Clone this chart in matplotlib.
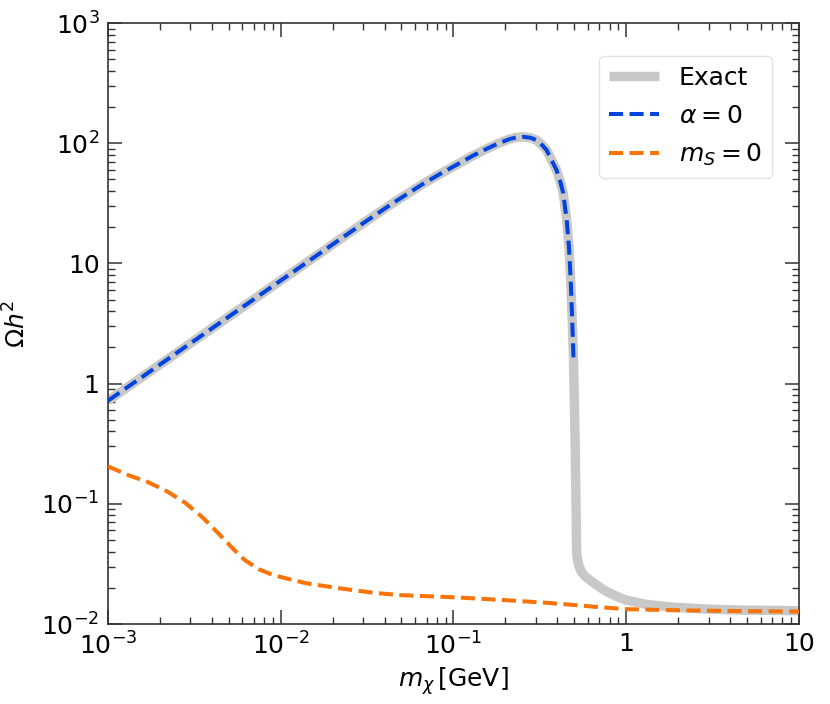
import matplotlib
matplotlib.use("Agg")
import matplotlib.pyplot as plt
from matplotlib.ticker import FixedLocator, FixedFormatter, LogLocator, NullFormatter

# ---- data ----
exact_x = [0.001, 0.002, 0.005, 0.01, 0.02, 0.03, 0.045, 0.0668, 0.0836, 0.1,
           0.13, 0.156, 0.18, 0.212, 0.233, 0.253, 0.28, 0.303, 0.325, 0.346,
           0.37, 0.395, 0.415, 0.432, 0.452, 0.466, 0.477, 0.485, 0.494, 0.505,
           0.512, 0.516, 0.522, 0.53, 0.55, 0.58, 0.617, 0.67, 0.77, 0.88,
           1.0, 1.3, 1.87, 3.0, 4.55, 7.0, 10.0]
exact_y = [0.72, 1.44, 3.6, 7.2, 14.4, 21.6, 32.0, 46.0, 55.5, 64.0,
           79.0, 90.0, 99.0, 108.5, 112.0, 113.0, 111.0, 106.0, 97.0, 87.7,
           72.0, 59.8, 48.0, 38.3, 23.0, 13.8, 7.3, 3.85, 1.79, 0.39,
           0.1, 0.039, 0.0345, 0.031, 0.0272, 0.0248, 0.0232, 0.0212, 0.0186, 0.0170,
           0.0158, 0.0146, 0.0138, 0.0133, 0.01306, 0.0130, 0.0129]

alpha0_x = [0.001, 0.002, 0.005, 0.01, 0.02, 0.03, 0.045, 0.0668, 0.0836, 0.1,
            0.13, 0.156, 0.18, 0.212, 0.233, 0.253, 0.28, 0.303, 0.325, 0.346,
            0.37, 0.395, 0.415, 0.432, 0.452, 0.466, 0.477, 0.485, 0.494, 0.496]
alpha0_y = [0.72, 1.44, 3.6, 7.2, 14.4, 21.6, 32.0, 46.0, 55.5, 64.0,
            79.0, 90.0, 99.0, 108.5, 112.0, 113.0, 111.0, 106.0, 97.0, 87.7,
            72.0, 59.8, 48.0, 38.3, 23.0, 13.8, 7.3, 3.85, 1.79, 1.48]

ms0_x = [0.001, 0.0013, 0.0017, 0.0022, 0.0028, 0.0035, 0.0043, 0.0052, 0.0062,
         0.0075, 0.009, 0.011, 0.0141, 0.022, 0.0344, 0.049, 0.1, 0.2, 0.35,
         0.5, 0.7, 1.0, 2.0, 5.0, 10.0]
ms0_y = [0.205, 0.174, 0.152, 0.127, 0.102, 0.078, 0.058, 0.0435, 0.0340,
         0.0285, 0.0256, 0.0238, 0.0218, 0.0198, 0.0182, 0.0174, 0.0167, 0.0158, 0.0150,
         0.0144, 0.0138, 0.0133, 0.0130, 0.0128, 0.0127]

labels = ["Exact", r"$\alpha=0$", r"$m_S=0$"]

xticks = [1e-3, 1e-2, 1e-1, 1, 10]
xticklabels = [r"$10^{-3}$", r"$10^{-2}$", r"$10^{-1}$", "1", "10"]
yticks = [1e-2, 1e-1, 1, 10, 1e2, 1e3]
yticklabels = [r"$10^{-2}$", r"$10^{-1}$", "1", "10", r"$10^{2}$", r"$10^{3}$"]

# ---- figure ----
plt.rcParams["font.family"] = ["DejaVu Sans"]
plt.rcParams["mathtext.fontset"] = "dejavusans"

fig = plt.figure(figsize=(8.3, 7.04), dpi=100)
ax = fig.add_axes([0.130, 0.1136, 0.8327, 0.8537])

ax.plot(exact_x, exact_y, color="#c8c9c7", lw=6.8, solid_capstyle="butt",
        solid_joinstyle="round", label=labels[0], zorder=2)
ax.plot(alpha0_x, alpha0_y, color="#0343df", lw=2.9, ls=(0, (3.5, 1.6)),
        label=labels[1], zorder=3)
ax.plot(ms0_x, ms0_y, color="#f97306", lw=2.9, ls=(0, (3.5, 1.6)),
        label=labels[2], zorder=3)

ax.set_xscale("log")
ax.set_yscale("log")
ax.set_xlim(1e-3, 10)
ax.set_ylim(1e-2, 1e3)

ax.xaxis.set_major_locator(FixedLocator(xticks))
ax.xaxis.set_major_formatter(FixedFormatter(xticklabels))
ax.yaxis.set_major_locator(FixedLocator(yticks))
ax.yaxis.set_major_formatter(FixedFormatter(yticklabels))
ax.xaxis.set_minor_locator(LogLocator(base=10, subs=range(2, 10), numticks=20))
ax.yaxis.set_minor_locator(LogLocator(base=10, subs=range(2, 10), numticks=20))
ax.xaxis.set_minor_formatter(NullFormatter())
ax.yaxis.set_minor_formatter(NullFormatter())

ax.tick_params(which="both", direction="in", top=True, right=True,
               colors="#333333", labelcolor="black")
ax.tick_params(which="major", length=10, width=1.1, labelsize=18, pad=6)
ax.tick_params(which="minor", length=5, width=1.0)
for s in ax.spines.values():
    s.set_color("#333333")
    s.set_linewidth(1.2)

ax.set_xlabel(r"$m_\chi\,$[GeV]", fontsize=18, labelpad=4)
ax.set_ylabel(r"$\Omega h^2$", fontsize=18, labelpad=8)

ax.legend(loc="upper right", bbox_to_anchor=(0.961, 0.945), borderaxespad=0,
          fontsize=18, handlelength=2.0, labelspacing=0.55, frameon=True,
          fancybox=True, framealpha=0.8, edgecolor="#dddddd")

fig.savefig("out.png", dpi=100)
